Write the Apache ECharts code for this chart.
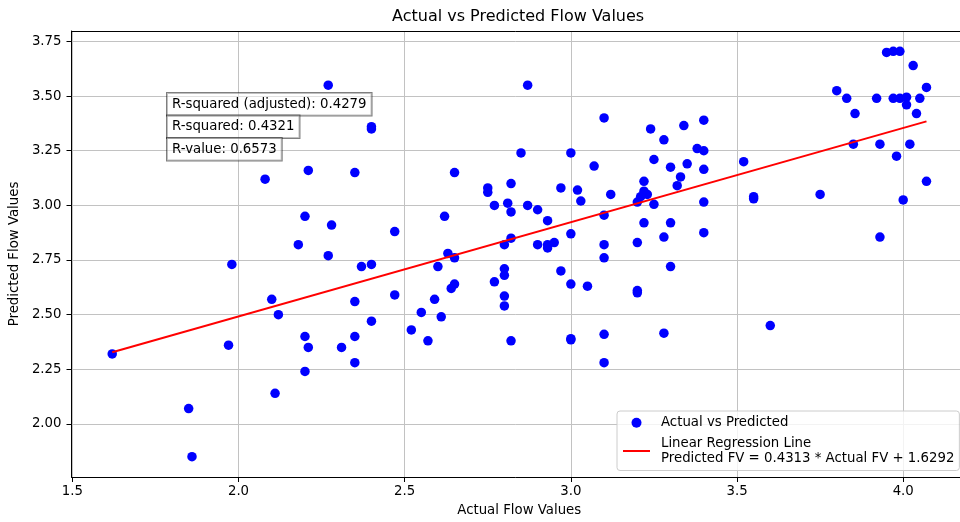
<!DOCTYPE html>
<html>
<head>
<meta charset="utf-8">
<title>Actual vs Predicted Flow Values</title>
<script src="https://cdn.jsdelivr.net/npm/echarts@6/dist/echarts.min.js"></script>
<style>
  html, body { margin: 0; padding: 0; background: #fff; }
  #chart { width: 960px; height: 522px; }
</style>
</head>
<body>
<div id="chart"></div>
<script>
// Observed (actual) flow values and the model's predictions, paired by index
const actualFV = [
  1.62, 1.85, 1.86, 1.97, 1.98, 2.08, 2.10, 2.11, 2.12, 2.18,
  2.20, 2.20, 2.20, 2.21, 2.21, 2.27, 2.27, 2.28, 2.31, 2.35,
  2.35, 2.35, 2.35, 2.37, 2.40, 2.40, 2.40, 2.40, 2.47, 2.47,
  2.52, 2.55, 2.57, 2.59, 2.60, 2.61, 2.62, 2.63, 2.65, 2.65,
  2.64, 2.65, 2.75, 2.75, 2.77, 2.77, 2.80, 2.80, 2.80, 2.80,
  2.80, 2.81, 2.82, 2.82, 2.82, 2.82, 2.85, 2.87, 2.87, 2.90,
  2.90, 2.93, 2.93, 2.93, 2.95, 2.97, 2.97, 3.00, 3.00, 3.00,
  3.00, 3.00, 3.02, 3.03, 3.05, 3.07, 3.10, 3.10, 3.10, 3.10,
  3.10, 3.10, 3.12, 3.20, 3.20, 3.20, 3.20, 3.22, 3.22, 3.21,
  3.23, 3.22, 3.24, 3.25, 3.25, 3.28, 3.28, 3.28, 3.30, 3.30,
  3.30, 3.32, 3.33, 3.34, 3.35, 3.38, 3.40, 3.40, 3.40, 3.40,
  3.40, 3.52, 3.55, 3.55, 3.60, 3.75, 3.80, 3.83, 3.855, 3.85,
  3.92, 3.93, 3.93, 3.95, 3.97, 3.99, 3.97, 3.98, 3.99, 4.00,
  4.01, 4.01, 4.02, 4.03, 4.04, 4.05, 4.07, 4.07
];
const predictedFV = [
  2.32, 2.07, 1.85, 2.36, 2.73, 3.12, 2.57, 2.14, 2.50, 2.82,
  2.95, 2.40, 2.24, 3.16, 2.35, 3.55, 2.77, 2.91, 2.35, 3.15,
  2.56, 2.40, 2.28, 2.72, 3.36, 3.35, 2.73, 2.47, 2.88, 2.59,
  2.43, 2.51, 2.38, 2.57, 2.72, 2.49, 2.95, 2.78, 2.76, 3.15,
  2.62, 2.64, 3.08, 3.06, 3.00, 2.65, 2.82, 2.71, 2.68, 2.585,
  2.54, 3.01, 3.10, 2.97, 2.85, 2.38, 3.24, 3.55, 3.00, 2.98,
  2.82, 2.93, 2.82, 2.805, 2.83, 3.08, 2.70, 3.24, 2.87, 2.64,
  2.39, 2.385, 3.07, 3.02, 2.63, 3.18, 3.40, 2.955, 2.82, 2.76,
  2.41, 2.28, 3.05, 3.015, 2.83, 2.61, 2.60, 3.11, 3.065, 3.04,
  3.05, 2.92, 3.35, 3.21, 3.005, 3.30, 2.855, 2.415, 3.175, 2.92,
  2.72, 3.09, 3.13, 3.365, 3.19, 3.26, 3.39, 3.25, 3.165, 3.015,
  2.875, 3.20, 3.04, 3.03, 2.45, 3.05, 3.525, 3.49, 3.42, 3.28,
  3.49, 3.28, 2.855, 3.70, 3.705, 3.705, 3.49, 3.225, 3.49, 3.025,
  3.495, 3.46, 3.28, 3.64, 3.42, 3.49, 3.54, 3.11
];

// Fitted regression and goodness-of-fit statistics
const slope = 0.4313;
const intercept = 1.6292;
const rSquaredAdj = 0.4279;
const rSquared = 0.4321;
const rValue = 0.6573;

// Tick positions on each axis
const xTicks = [1.5, 2.0, 2.5, 3.0, 3.5, 4.0];
const yTicks = [2.00, 2.25, 2.50, 2.75, 3.00, 3.25, 3.50, 3.75];

const FONT = 'DejaVu Sans';
const GRID_COLOR = '#c2c2c2';

const scatterData = actualFV.map((x, i) => [x, predictedFV[i]]);
const xLo = Math.min(...actualFV);
const xHi = Math.max(...actualFV);
const fitData = [
  [xLo, slope * xLo + intercept],
  [xHi, slope * xHi + intercept]
];
const fitName = 'Linear Regression Line\nPredicted FV = ' + slope.toFixed(4) +
  ' * Actual FV + ' + intercept.toFixed(4);

const statBox = (text, top) => ({
  type: 'text',
  left: 166,
  top: top,
  z: 100,
  style: {
    text: text,
    font: '13.3px "' + FONT + '"',
    fill: '#000',
    lineHeight: 15.5,
    backgroundColor: 'rgba(255,255,255,0.5)',
    borderColor: 'rgba(0,0,0,0.5)',
    borderWidth: 1,
    padding: [3.5, 5, 3.5, 5]
  }
});

const chart = echarts.init(document.getElementById('chart'), null, { renderer: 'canvas' });

chart.setOption({
  animation: false,
  backgroundColor: '#ffffff',
  textStyle: { fontFamily: FONT },
  title: {
    text: 'Actual vs Predicted Flow Values',
    left: 392,
    top: 9,
    padding: 0,
    textStyle: { fontFamily: FONT, fontSize: 16, fontWeight: 'normal', color: '#000' }
  },
  grid: { left: 70, right: 0, top: 31, bottom: 43.3, containLabel: false },
  legend: {
    orient: 'vertical',
    left: 617,
    top: 411,
    padding: [4, 5, 4, 5],
    itemGap: 5,
    itemWidth: 27,
    itemHeight: 10,
    backgroundColor: 'rgba(255,255,255,0.8)',
    borderColor: '#cccccc',
    borderWidth: 1,
    borderRadius: 3,
    selectedMode: false,
    textStyle: {
      fontFamily: FONT, fontSize: 13.3, color: '#000', lineHeight: 15.5,
      padding: [0, 0, 0, 6]
    },
    data: [
      { name: 'Actual vs Predicted' },
      { name: fitName, itemStyle: { opacity: 0 } }
    ]
  },
  xAxis: [
    {
      type: 'value',
      min: 1.4975,
      max: 4.1709,
      name: 'Actual Flow Values',
      nameLocation: 'middle',
      nameGap: 27,
      nameTextStyle: { fontFamily: FONT, fontSize: 13.3, color: '#000', padding: [0, 0, 0, 7] },
      axisLine: { show: true, onZero: false, lineStyle: { color: '#000', width: 1 } },
      axisTick: { show: true, length: 5, inside: false, customValues: xTicks, lineStyle: { color: '#000' } },
      axisLabel: {
        show: true, margin: 8, customValues: xTicks,
        fontFamily: FONT, fontSize: 13.3, color: '#000',
        formatter: v => Number(v).toFixed(1)
      },
      splitLine: { show: true, lineStyle: { color: GRID_COLOR, width: 1 } }
    },
    {
      type: 'value',
      position: 'top',
      min: 1.4975,
      max: 4.1709,
      axisLine: { show: true, onZero: false, lineStyle: { color: '#000', width: 1 } },
      axisTick: { show: false },
      axisLabel: { show: false },
      splitLine: { show: false }
    }
  ],
  yAxis: {
    type: 'value',
    min: 1.757,
    max: 3.798,
    name: 'Predicted Flow Values',
    nameLocation: 'middle',
    nameGap: 42,
    nameRotate: 90,
    nameTextStyle: { fontFamily: FONT, fontSize: 13.3, color: '#000' },
    axisLine: { show: true, onZero: false, lineStyle: { color: '#000', width: 1 } },
    axisTick: { show: true, length: 5, inside: false, customValues: yTicks, lineStyle: { color: '#000' } },
    axisLabel: {
      show: true, margin: 10, customValues: yTicks,
      fontFamily: FONT, fontSize: 13.3, color: '#000',
      formatter: v => Number(v).toFixed(2)
    },
    splitLine: { show: true, lineStyle: { color: GRID_COLOR, width: 1 } }
  },
  series: [
    {
      name: 'Actual vs Predicted',
      type: 'scatter',
      symbol: 'circle',
      symbolSize: 9.5,
      itemStyle: { color: '#0000ff', opacity: 1 },
      emphasis: { disabled: true },
      data: scatterData,
      z: 2
    },
    {
      name: fitName,
      type: 'line',
      symbol: 'none',
      showSymbol: false,
      lineStyle: { color: '#ff0000', width: 2 },
      itemStyle: { color: '#ff0000' },
      emphasis: { disabled: true },
      data: fitData,
      z: 3
    }
  ],
  graphic: [
    statBox('R-squared (adjusted): ' + rSquaredAdj.toFixed(4), 92),
    statBox('R-squared: ' + rSquared.toFixed(4), 114.5),
    statBox('R-value: ' + rValue.toFixed(4), 137)
  ]
});
</script>
</body>
</html>
